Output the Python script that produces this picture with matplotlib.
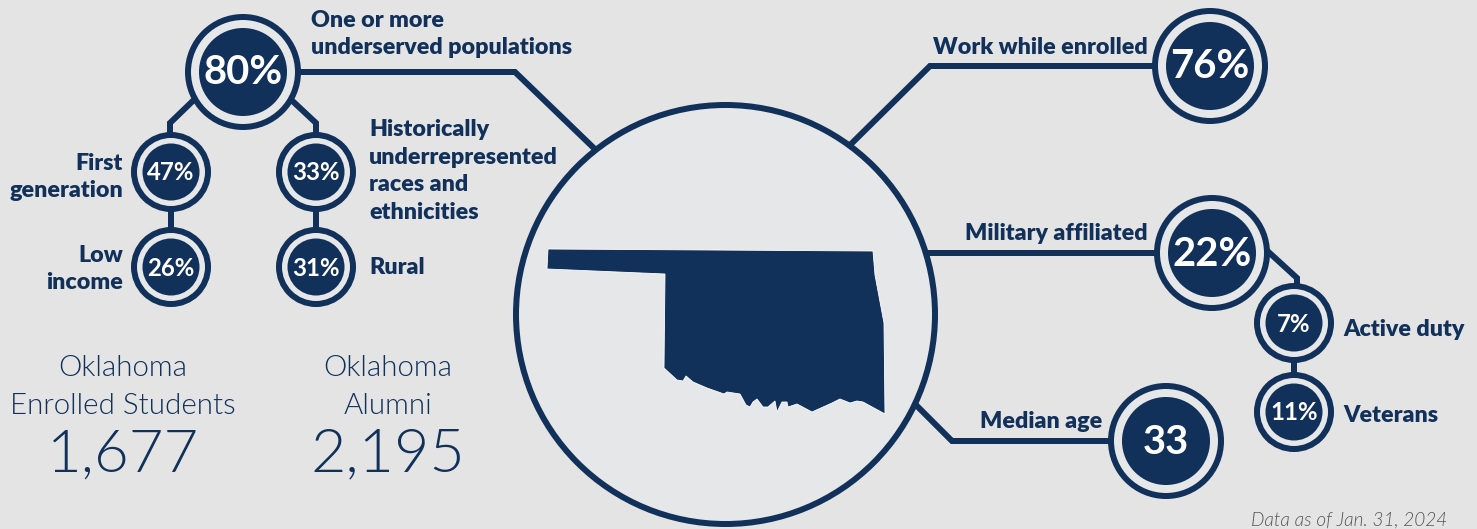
import matplotlib
matplotlib.use("Agg")
import matplotlib.pyplot as plt
from matplotlib.patches import Circle, Polygon

NAVY = "#11305a"
LIGHT = "#e6e7e8"
BG = "#e4e4e4"

# big rounds
big_values = ["80%", "76%", "22%", "33"]
big_x = [243, 1210, 1212, 1166]
big_y = [72, 66, 253, 441]

# small rounds
small_values = ["47%", "33%", "26%", "31%", "7%", "11%"]
small_x = [171, 316, 171, 316, 1294, 1294]
small_y = [172, 172, 267, 267, 323, 412]

# connector lines, ends run under the circles
links = [
    [(295, 72), (515, 72), (600, 154)],
    [(846, 149), (930, 66), (1160, 66)],
    [(920, 253), (1160, 253)],
    [(910, 399), (952, 441), (1115, 441)],
    [(1262, 246), (1297, 278), (1297, 290)],
    [(200, 94), (170, 123), (170, 140)],
    [(285, 94), (316, 123), (316, 140)],
    [(171, 205), (171, 235)],
    [(316, 205), (316, 235)],
    [(1294, 355), (1294, 380)],
]

# label text, right or left anchored
labels = [
    ("One or more\nunderserved populations", 311, 34, "left"),
    ("Work while enrolled", 1148, 48, "right"),
    ("Military affiliated", 1148, 233, "right"),
    ("Median age", 1102, 422, "right"),
    ("Active duty", 1343, 330, "left"),
    ("Veterans", 1343, 415, "left"),
    ("First\ngeneration", 123, 177, "right"),
    ("Low\nincome", 123, 269, "right"),
    ("Historically\nunderrepresented\nraces and\nethnicities", 369, 171, "left"),
    ("Rural", 369, 268, "left"),
]

oklahoma = [
    (548, 249), (873, 251), (875, 275), (884, 323), (885, 414), (863, 402),
    (857, 401), (850, 403), (840, 399), (832, 403), (812, 412), (797, 404),
    (788, 407), (787, 402), (782, 402), (777, 412), (775, 401), (768, 407),
    (763, 407), (757, 399), (753, 402), (750, 407), (746, 405), (740, 394),
    (727, 392), (724, 394), (707, 388), (693, 382), (686, 376), (683, 381),
    (677, 380), (664, 368), (665, 274), (547, 269),
]

fig = plt.figure(figsize=(14.77, 5.29), dpi=100, facecolor=BG)
ax = fig.add_axes([0, 0, 1, 1])
ax.set_xlim(0, 1477)
ax.set_ylim(529, 0)
ax.axis("off")

plt.rcParams["font.family"] = ["Lato", "DejaVu Sans"]


def px(n):
    return n * 0.72


for pts in links:
    ax.plot([p[0] for p in pts], [p[1] for p in pts], color=NAVY, lw=px(6),
            solid_joinstyle="miter", solid_capstyle="butt", zorder=1)


def badge(x, y, text, r_out, r_in, size):
    ax.add_patch(Circle((x, y), r_out - 3, fc=LIGHT, ec=NAVY, lw=px(6), zorder=2))
    ax.add_patch(Circle((x, y), r_in, fc=NAVY, ec="none", zorder=3))
    ax.text(x, y + 1, text, color="white", fontsize=px(size), fontweight="bold",
            ha="center", va="center", zorder=4)


ax.add_patch(Circle((725.5, 314.5), 209.5, fc=LIGHT, ec=NAVY, lw=px(6), zorder=2))
ax.add_patch(Polygon(oklahoma, closed=True, fc=NAVY, ec="white", lw=0.6, zorder=3))

for v, x, y in zip(big_values, big_x, big_y):
    badge(x, y, v, 58, 44, 40)
for v, x, y in zip(small_values, small_x, small_y):
    badge(x, y, v, 40, 28.5, 24)

for text, x, y, ha in labels:
    ax.text(x, y, text, color=NAVY, fontsize=px(23.2), fontweight=800, ha=ha,
            va="center", linespacing=1.38)

ax.text(123, 387, "Oklahoma\nEnrolled Students", color=NAVY, fontsize=px(29.5),
        fontweight=300, ha="center", va="center", linespacing=1.6)
ax.text(388, 387, "Oklahoma\nAlumni", color=NAVY, fontsize=px(29.5),
        fontweight=300, ha="center", va="center", linespacing=1.6)
ax.text(123, 455, "1,677", color=NAVY, fontsize=px(60), fontweight=300,
        ha="center", va="center")
ax.text(388, 455, "2,195", color=NAVY, fontsize=px(61), fontweight=300,
        ha="center", va="center")
ax.text(1447, 520, "Data as of Jan. 31, 2024", color="#555555", fontsize=px(19),
        fontstyle="italic", fontweight=300, ha="right", va="center")

fig.savefig("out.png", dpi=100, facecolor=BG)
